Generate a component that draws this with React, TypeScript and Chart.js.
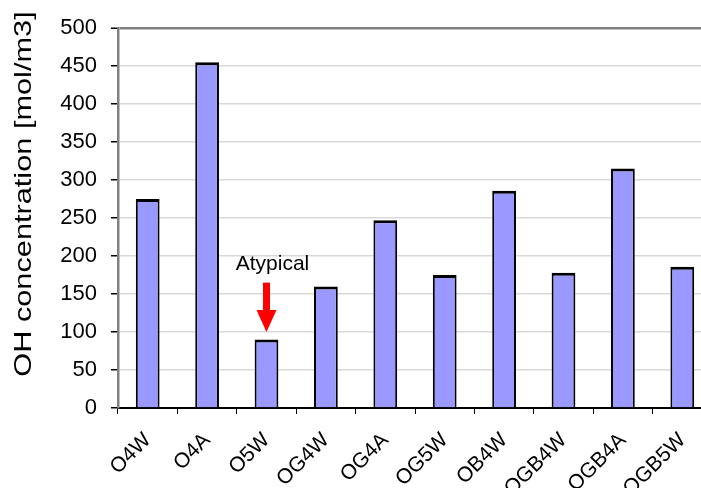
import React, { useEffect, useRef } from 'react';
import { Chart, registerables } from 'chart.js';

Chart.register(...registerables);

const categories = ['O4W', 'O4A', 'O5W', 'OG4W', 'OG4A', 'OG5W', 'OB4W', 'OGB4W', 'OGB4A', 'OGB5W'];
const ohConcentration = [275, 455, 90, 160, 247, 175, 286, 178, 315, 186];
const yTitle = 'OH concentration [mol/m3]';
const yMin = 0;
const yMax = 500;
const yStep = 50;

const annotationLabel = 'Atypical';
const annotationCategory = 'O5W';
const labelBaselineValue = 181;
const arrowTopValue = 165;
const arrowHeadBaseValue = 129;
const arrowTipValue = 100;

const FONT = '"Liberation Sans", Arial, sans-serif';

const annotationPlugin = {
  id: 'atypicalAnnotation',
  afterDatasetsDraw(chart: any) {
    const { ctx } = chart;
    const xs = chart.scales.x;
    const ys = chart.scales.y;
    const cx = xs.getPixelForValue(categories.indexOf(annotationCategory));
    ctx.save();
    ctx.fillStyle = '#000';
    ctx.font = `21px ${FONT}`;
    ctx.textAlign = 'center';
    ctx.textBaseline = 'alphabetic';
    ctx.fillText(annotationLabel, cx + 6, ys.getPixelForValue(labelBaselineValue));
    const top = ys.getPixelForValue(arrowTopValue);
    const base = ys.getPixelForValue(arrowHeadBaseValue);
    const tip = ys.getPixelForValue(arrowTipValue);
    ctx.fillStyle = '#ff0000';
    ctx.fillRect(cx - 3.5, top, 7, base - top + 1);
    ctx.beginPath();
    ctx.moveTo(cx - 10, base);
    ctx.lineTo(cx + 10, base);
    ctx.lineTo(cx, tip);
    ctx.closePath();
    ctx.fill();
    ctx.restore();
  },
};

const titlePlugin = {
  id: 'stretchedYTitle',
  afterDraw(chart: any) {
    const { ctx } = chart;
    ctx.save();
    ctx.translate(24, 194);
    ctx.rotate(-Math.PI / 2);
    ctx.scale(1.28, 1);
    ctx.fillStyle = '#000';
    ctx.font = `24px ${FONT}`;
    ctx.textAlign = 'center';
    ctx.textBaseline = 'middle';
    ctx.fillText(yTitle, 0, 0);
    ctx.restore();
  },
};

export default function App() {
  const canvasRef = useRef<HTMLCanvasElement | null>(null);

  useEffect(() => {
    if (!canvasRef.current) return;
    const chart = new Chart(canvasRef.current, {
      type: 'bar',
      data: {
        labels: categories,
        datasets: [
          {
            data: ohConcentration,
            backgroundColor: '#9999ff',
            borderColor: '#000000',
            borderWidth: { top: 3, left: 2, right: 2, bottom: 0 },
            barPercentage: 0.4,
            categoryPercentage: 1.0,
          },
        ],
      },
      options: {
        responsive: false,
        animation: false,
        devicePixelRatio: 1,
        layout: { padding: { top: 28, right: 0, left: 0, bottom: 0 } },
        plugins: {
          legend: { display: false },
          tooltip: { enabled: false },
          title: { display: false },
        },
        scales: {
          x: {
            grid: {
              display: true,
              drawOnChartArea: false,
              drawTicks: true,
              tickLength: 6,
              tickColor: '#000',
              offset: true,
            },
            border: { display: true, color: '#000', width: 2 },
            ticks: {
              color: '#000',
              font: { family: FONT, size: 21 },
              maxRotation: 45,
              minRotation: 45,
              padding: 14,
              autoSkip: false,
            },
            afterFit: (s: any) => {
              s.height = 80;
              s.paddingLeft = 0;
              s.paddingRight = 0;
            },
          },
          y: {
            min: yMin,
            max: yMax,
            ticks: {
              stepSize: yStep,
              color: '#000',
              font: { family: FONT, size: 22 },
              padding: 14,
            },
            grid: {
              color: (c: any) => (c.tick && c.tick.value === yMax ? '#808080' : '#d9d9d9'),
              lineWidth: (c: any) => (c.tick && c.tick.value === yMax ? 2.5 : 1.5),
              tickColor: '#000',
              tickWidth: 1.5,
              tickLength: 7,
            },
            border: { display: true, color: '#808080', width: 2.5 },
            afterFit: (s: any) => {
              s.width = 118;
            },
          },
        },
      },
      plugins: [annotationPlugin, titlePlugin],
    });
    return () => chart.destroy();
  }, []);

  return (
    <div
      style={{
        position: 'fixed',
        left: 0,
        top: 0,
        width: 701,
        height: 488,
        overflow: 'hidden',
        background: '#fff',
      }}
    >
      <canvas ref={canvasRef} width={712} height={488} style={{ display: 'block', width: 712, height: 488 }} />
    </div>
  );
}
